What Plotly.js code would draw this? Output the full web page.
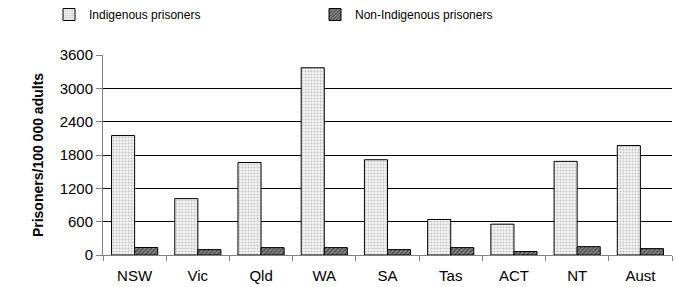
<!DOCTYPE html>
<html>
<head>
<meta charset="utf-8">
<script src="https://cdn.plot.ly/plotly-3.0.1.min.js"></script>
<style>html,body{margin:0;padding:0;background:#fff;}#chart{width:676px;height:287px;}</style>
</head>
<body>
<div id="chart"></div>
<script>
const categories = ["NSW", "Vic", "Qld", "WA", "SA", "Tas", "ACT", "NT", "Aust"];
const indigenous = [2150, 1015, 1665, 3370, 1715, 640, 555, 1685, 1970];
const nonIndigenous = [135, 97, 133, 133, 97, 133, 62, 150, 115];
const yTicks = [0, 600, 1200, 1800, 2400, 3000, 3600];

const fam = "Liberation Sans, Arial, sans-serif";

const traces = [
  {
    type: "bar", name: "Indigenous prisoners", x: categories, y: indigenous,
    marker: {color: "#f4f4f4", line: {color: "#000", width: 1},
      pattern: {shape: ".", fgcolor: "#c4c4c4", bgcolor: "#f4f4f4", size: 3, solidity: 0.35}}
  },
  {
    type: "bar", name: "Non-Indigenous prisoners", x: categories, y: nonIndigenous,
    marker: {color: "#808080", line: {color: "#000", width: 1},
      pattern: {shape: "/", fgcolor: "#404040", bgcolor: "#8a8a8a", size: 3, solidity: 0.4}}
  }
];

const layout = {
  width: 676, height: 287,
  margin: {l: 103, r: 4, t: 55, b: 32, pad: 0},
  paper_bgcolor: "#fff", plot_bgcolor: "#fff",
  font: {family: fam, size: 13, color: "#000"},
  barmode: "group", bargap: 0.27, bargroupgap: 0,
  showlegend: true,
  legend: {orientation: "h", xref: "container", yref: "container",
    x: 0.0725, xanchor: "left", y: 1, yanchor: "top",
    entrywidth: 221, entrywidthmode: "pixels", itemwidth: 30,
    font: {family: fam, size: 12, color: "#000"}, bgcolor: "rgba(0,0,0,0)"},
  xaxis: {
    type: "category", showgrid: false, showline: true, linecolor: "#808080", linewidth: 1,
    ticks: "outside", tickson: "boundaries", ticklen: 5, tickcolor: "#808080",
    ticklabelstandoff: 7,
    tickfont: {family: fam, size: 15, color: "#000"}, zeroline: false, fixedrange: true
  },
  yaxis: {
    range: [0, 3600], tickvals: yTicks, ticktext: yTicks.map(String),
    showgrid: true, gridcolor: "#000", gridwidth: 1,
    showline: true, linecolor: "#808080", linewidth: 1,
    ticks: "outside", ticklen: 6, tickcolor: "#808080",
    tickfont: {family: fam, size: 15, color: "#000"}, zeroline: false,
    title: {text: "<b>Prisoners/100 000 adults</b>", font: {family: fam, size: 14, color: "#000"}, standoff: 12},
    fixedrange: true
  }
};

Plotly.newPlot("chart", traces, layout, {staticPlot: true, displayModeBar: false});
</script>
</body>
</html>
